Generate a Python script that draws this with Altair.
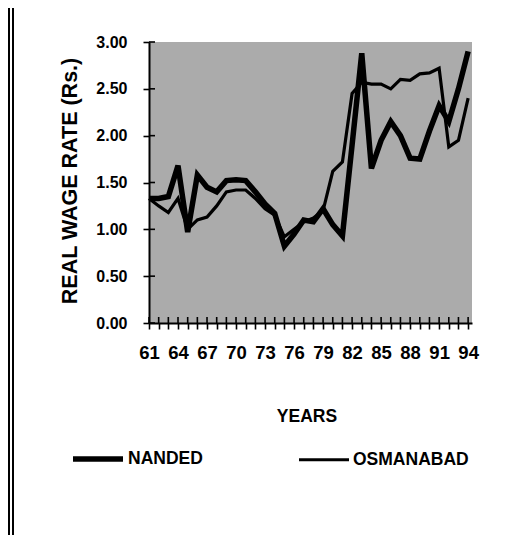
import altair as alt
import pandas as pd

years = list(range(61, 95))
nanded = [1.33, 1.33, 1.35, 1.68, 0.97, 1.58, 1.45, 1.40, 1.52, 1.53, 1.52, 1.40,
          1.27, 1.17, 0.82, 0.95, 1.10, 1.08, 1.22, 1.05, 0.93, 1.90, 2.88, 1.65,
          1.95, 2.15, 2.00, 1.76, 1.75, 2.05, 2.32, 2.15, 2.50, 2.90]
osmanabad = [1.33, 1.25, 1.18, 1.33, 1.00, 1.10, 1.13, 1.25, 1.40, 1.42, 1.42, 1.33,
             1.22, 1.15, 0.92, 1.00, 1.08, 1.12, 1.20, 1.62, 1.72, 2.45, 2.57, 2.55,
             2.55, 2.50, 2.60, 2.59, 2.66, 2.67, 2.72, 1.88, 1.95, 2.40]
series_names = ["NANDED", "OSMANABAD"]
y_ticks = [0.0, 0.5, 1.0, 1.5, 2.0, 2.5, 3.0]

rows = []
for name, vals in zip(series_names, [nanded, osmanabad]):
    for yr, v in zip(years, vals):
        rows.append({"Year": yr, "Wage": v, "District": name})
df = pd.DataFrame(rows)
df_years = pd.DataFrame({"Year": years})
df_yt = pd.DataFrame({"Wage": y_ticks})

W, H = 323, 281
FONT = "Liberation Sans"
NARROW = "Liberation Sans Narrow, Liberation Sans"

xscale = alt.Scale(domain=[61, 94.4], nice=False, zero=False)
yscale = alt.Scale(domain=[0, 3], nice=False)

x_axis = alt.Axis(values=years, title="YEARS",
                  labelExpr="(datum.value - 61) % 3 == 0 ? datum.label : ''",
                  labelFont=NARROW, labelFontSize=18.5, labelFontWeight="bold",
                  labelColor="black", labelPadding=14, labelFlush=False,
                  labelOverlap=False, labelBound=False,
                  tickSize=6, tickWidth=1.6, tickColor="black",
                  domainColor="black", domainWidth=2, grid=False,
                  titleFont=FONT, titleFontSize=17.5, titleFontWeight="bold",
                  titleColor="black", titleX=W / 2 - 4, titleY=84,
                  titleBaseline="top")
y_axis = alt.Axis(values=y_ticks, format=".2f", title="REAL WAGE RATE (Rs.)",
                  labelFont=FONT, labelFontSize=16, labelFontWeight="bold",
                  labelColor="black", labelPadding=16, labelOverlap=False,
                  tickSize=6, tickWidth=1.6, tickColor="black",
                  domainColor="black", domainWidth=2, grid=False,
                  titleFont=FONT, titleFontSize=21.5, titleFontWeight="bold",
                  titleColor="black", titleX=-79, titleY=H / 2 - 2,
                  titleAngle=270, titleBaseline="middle", titleAlign="center")

legend_kw = dict(title=None, orient="none", direction="horizontal",
                 legendX=-79, legendY=389, symbolType="stroke",
                 symbolSize=2500, labelFont=FONT, labelFontSize=17.5,
                 labelFontWeight="bold", labelColor="black",
                 labelOffset=2, columnPadding=89, padding=0)

lines = alt.Chart(df).mark_line(color="black").encode(
    x=alt.X("Year:Q", scale=xscale, axis=x_axis),
    y=alt.Y("Wage:Q", scale=yscale, axis=y_axis),
    color=alt.Color("District:N", scale=alt.Scale(domain=series_names, range=["black", "black"]),
                    legend=alt.Legend(**legend_kw)),
    strokeWidth=alt.StrokeWidth("District:N",
                                scale=alt.Scale(domain=series_names, range=[5.5, 3.2]),
                                legend=alt.Legend(**legend_kw)),
)

xticks_in = alt.Chart(df_years).mark_rule(color="black", strokeWidth=1.6).encode(
    x=alt.X("Year:Q", scale=xscale, axis=x_axis),
    y=alt.value(H - 6), y2=alt.value(H),
)
yticks_in = alt.Chart(df_yt).mark_rule(color="black", strokeWidth=1.6).encode(
    y=alt.Y("Wage:Q", scale=yscale, axis=y_axis),
    x=alt.value(0), x2=alt.value(6),
)

# page frame: double vertical rule at the left edge
frame_outer = alt.Chart(df_years).mark_rule(color="black", strokeWidth=2).encode(
    x=alt.value(-140), y=alt.value(-34), y2=alt.value(H + 212),
)
frame_inner = alt.Chart(df_years).mark_rule(color="black", strokeWidth=2).encode(
    x=alt.value(-136), y=alt.value(-34), y2=alt.value(H + 212),
)

chart = alt.layer(lines, xticks_in, yticks_in, frame_outer, frame_inner).properties(
    width=W, height=H,
    autosize=alt.AutoSizeParams(type="none"),
    padding={"left": 141, "top": 34, "right": 27, "bottom": 212},
).configure(
    background="white",
).configure_view(
    fill="#ababab", stroke=None,
)

chart.save("out.html", embed_options={"renderer": "svg", "actions": False})
